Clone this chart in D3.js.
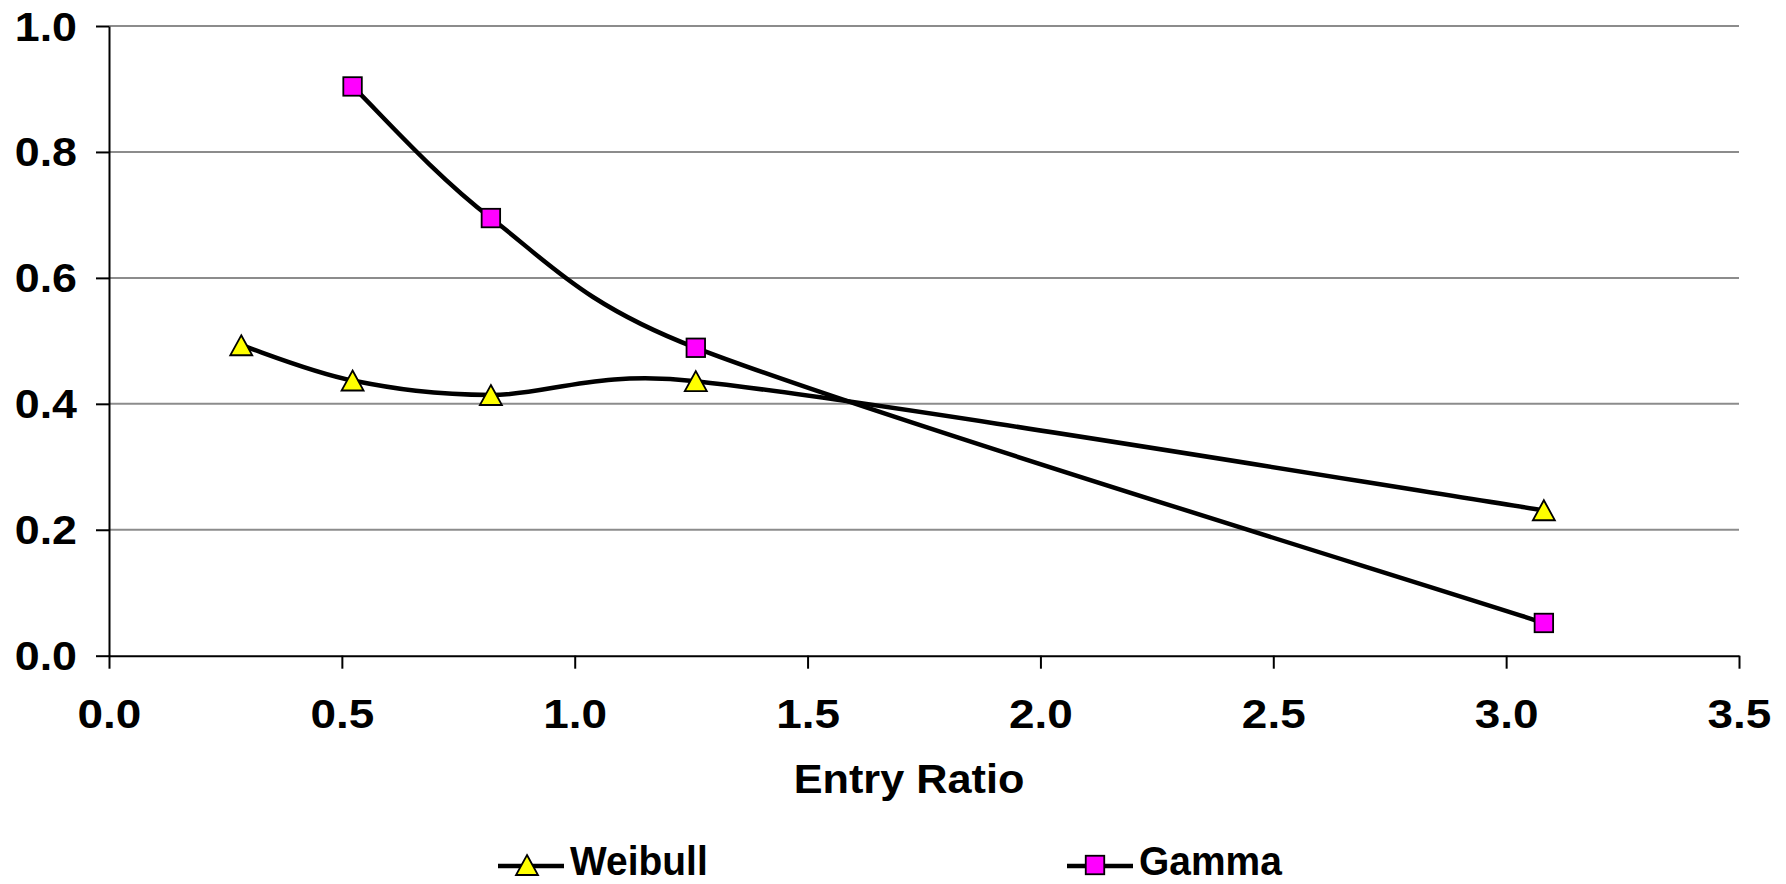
<!DOCTYPE html>
<html>
<head>
<meta charset="utf-8">
<script src="https://cdn.jsdelivr.net/npm/d3@7"></script>
<style>
  html, body { margin: 0; padding: 0; background: #fff; }
  svg { display: block; }
  text { font-family: "Liberation Sans", Arial, sans-serif; font-weight: bold; fill: #000; }
</style>
</head>
<body>
<svg id="chart" width="1786" height="884"></svg>
<script>
// Series data: entry ratio (x) against fitted value (y)
const weibullX = [0.284, 0.523, 0.820, 1.260, 3.081];
const weibullY = [0.493, 0.437, 0.414, 0.436, 0.231];
const gammaX = [0.523, 0.820, 1.260, 3.081];
const gammaY = [0.904, 0.695, 0.489, 0.052];

const xTicks = [0.0, 0.5, 1.0, 1.5, 2.0, 2.5, 3.0, 3.5];
const yTicks = [0.0, 0.2, 0.4, 0.6, 0.8, 1.0];
const xTitle = "Entry Ratio";
const seriesNames = ["Weibull", "Gamma"];

const svg = d3.select("#chart");
const plot = { left: 109, right: 1739, top: 26, bottom: 655.7 };

const x = d3.scaleLinear().domain([0, 3.5]).range([plot.left, plot.right]);
const y = d3.scaleLinear().domain([0, 1]).range([plot.bottom, plot.top]);

const labelStretch = 1.12;

// Horizontal gridlines
svg.append("g")
  .selectAll("line")
  .data(yTicks.filter(d => d > 0))
  .join("line")
  .attr("x1", plot.left).attr("x2", plot.right)
  .attr("y1", d => y(d)).attr("y2", d => y(d))
  .attr("stroke", "#8c8c8c").attr("stroke-width", 2);

// Y axis
const yAxis = svg.append("g")
  .attr("transform", `translate(${plot.left},0)`)
  .call(d3.axisLeft(y).tickValues(yTicks).tickFormat(d3.format(".1f")).tickSize(13).tickPadding(19).tickSizeOuter(0));
yAxis.select(".domain").attr("stroke", "#000").attr("stroke-width", 2);
yAxis.selectAll(".tick line").attr("stroke", "#000").attr("stroke-width", 2);
yAxis.selectAll(".tick text")
  .attr("font-size", 40).attr("font-family", "Liberation Sans, Arial, sans-serif")
  .attr("font-weight", "bold").attr("fill", "#000")
  .attr("x", 0).attr("dy", "0.35em")
  .attr("transform", `translate(-32,0) scale(${labelStretch},1)`);

// X axis
const xAxis = svg.append("g")
  .attr("transform", `translate(0,${plot.bottom})`)
  .call(d3.axisBottom(x).tickValues(xTicks).tickFormat(d3.format(".1f")).tickSize(13).tickPadding(30).tickSizeOuter(0));
xAxis.select(".domain").attr("stroke", "#000").attr("stroke-width", 2);
xAxis.selectAll(".tick line").attr("stroke", "#000").attr("stroke-width", 2);
xAxis.selectAll(".tick text")
  .attr("font-size", 41).attr("font-family", "Liberation Sans, Arial, sans-serif")
  .attr("font-weight", "bold").attr("fill", "#000")
  .attr("y", 0).attr("dy", "0.71em")
  .attr("transform", `translate(0,43) scale(${labelStretch},1)`);

// Axis title
svg.append("text")
  .attr("transform", "translate(909,793) scale(1.055,1)")
  .attr("text-anchor", "middle")
  .attr("font-size", 41)
  .text(xTitle);

// Smoothed line: cubic Bezier segments whose handles are 1/6 of the
// neighbour-to-neighbour vector, capped at half the segment length.
function smoothPath(points) {
  const p = points.map(d => [x(d[0]), y(d[1])]);
  const path = d3.path();
  path.moveTo(p[0][0], p[0][1]);
  for (let i = 0; i < p.length - 1; i++) {
    const a = p[i], b = p[i + 1];
    const prev = p[i - 1] || a;
    const next = p[i + 2] || b;
    const seg = Math.hypot(b[0] - a[0], b[1] - a[1]);
    const handle = (from, to) => {
      let hx = (to[0] - from[0]) / 6, hy = (to[1] - from[1]) / 6;
      const len = Math.hypot(hx, hy);
      if (len > seg / 2) { const s = (seg / 2) / len; hx *= s; hy *= s; }
      return [hx, hy];
    };
    const h1 = handle(prev, b);
    const h2 = handle(a, next);
    path.bezierCurveTo(a[0] + h1[0], a[1] + h1[1], b[0] - h2[0], b[1] - h2[1], b[0], b[1]);
  }
  return path.toString();
}

const weibull = weibullX.map((v, i) => [v, weibullY[i]]);
const gamma = gammaX.map((v, i) => [v, gammaY[i]]);

[weibull, gamma].forEach(series => {
  svg.append("path").attr("d", smoothPath(series))
    .attr("fill", "none").attr("stroke", "#000")
    .attr("stroke-width", 4.5).attr("stroke-linejoin", "round");
});

// Marker shapes
const triPath = "M0,-10 L11,10 L-11,10 Z";
const sqSize = 18.5;

svg.append("g").selectAll("path")
  .data(weibull).join("path")
  .attr("d", triPath)
  .attr("transform", d => `translate(${x(d[0])},${y(d[1])})`)
  .attr("fill", "#ffff00").attr("stroke", "#000").attr("stroke-width", 1.8);

svg.append("g").selectAll("rect")
  .data(gamma).join("rect")
  .attr("x", d => x(d[0]) - sqSize / 2).attr("y", d => y(d[1]) - sqSize / 2)
  .attr("width", sqSize).attr("height", sqSize)
  .attr("fill", "#ff00ff").attr("stroke", "#000").attr("stroke-width", 1.8);

// Legend
const legendY = 866;
const legend = [
  { name: seriesNames[0], x0: 498, kind: "tri" },
  { name: seriesNames[1], x0: 1067, kind: "sq" }
];
const lg = svg.append("g");
legend.forEach(item => {
  lg.append("line")
    .attr("x1", item.x0).attr("x2", item.x0 + 66)
    .attr("y1", legendY).attr("y2", legendY)
    .attr("stroke", "#000").attr("stroke-width", 4.5);
  if (item.kind === "tri") {
    lg.append("path").attr("d", triPath)
      .attr("transform", `translate(${item.x0 + 29},${legendY - 1})`)
      .attr("fill", "#ffff00").attr("stroke", "#000").attr("stroke-width", 1.8);
  } else {
    lg.append("rect")
      .attr("x", item.x0 + 28 - sqSize / 2).attr("y", legendY - 1 - sqSize / 2)
      .attr("width", sqSize).attr("height", sqSize)
      .attr("fill", "#ff00ff").attr("stroke", "#000").attr("stroke-width", 1.8);
  }
  lg.append("text")
    .attr("transform", `translate(${item.x0 + 72},${legendY + 9}) scale(0.95,1)`)
    .attr("font-size", 41)
    .text(item.name);
});
</script>
</body>
</html>
